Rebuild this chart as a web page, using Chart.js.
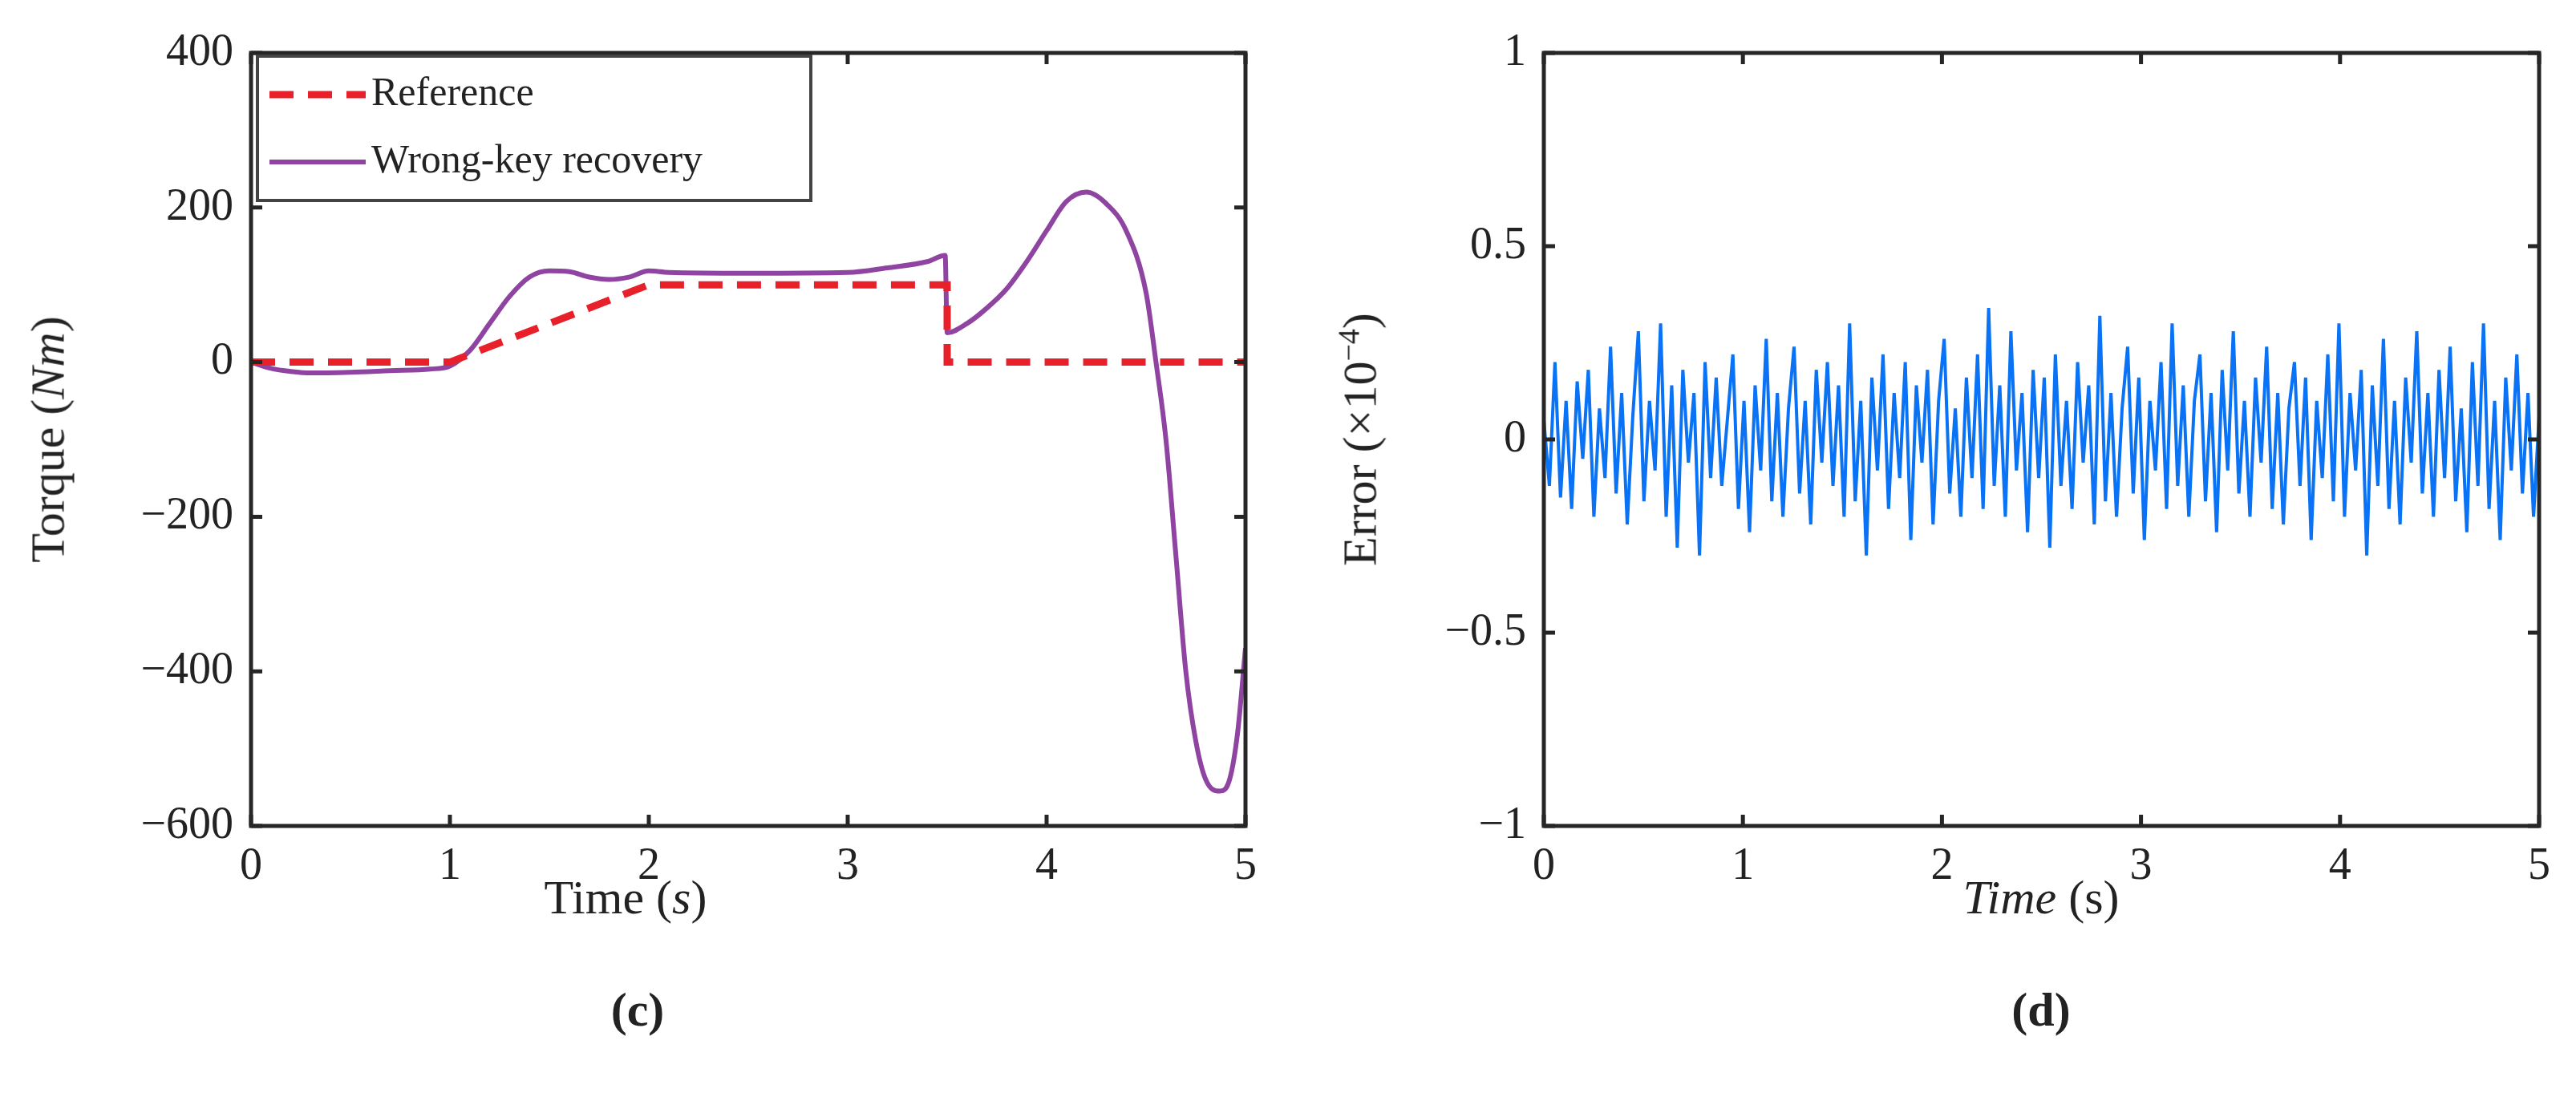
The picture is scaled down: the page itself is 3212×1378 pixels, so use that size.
<!DOCTYPE html>
<html><head><meta charset="utf-8">
<script src="https://cdn.jsdelivr.net/npm/chart.js@4"></script>
<style>
body{margin:0;background:#fff;width:3212px;height:1378px;position:relative;overflow:hidden;font-family:"Liberation Serif","DejaVu Serif",serif;color:#222}
.c{position:absolute;top:0;height:1378px}
.t{position:absolute;font-size:60px;white-space:nowrap}
</style></head><body>
<div class="c" style="left:0;width:1600px"><canvas id="c1" width="1600" height="1378" style="width:1600px;height:1378px"></canvas></div>
<div class="c" style="left:1600px;width:1612px"><canvas id="c2" width="1612" height="1378" style="width:1612px;height:1378px"></canvas></div>
<div class="t" style="left:780px;top:1085px;transform:translateX(-50%)">Time (<i>s</i>)</div>
<div class="t" style="left:2545px;top:1085px;transform:translateX(-50%)"><i>Time</i> (s)</div>
<div class="t" style="left:60px;top:548px;transform:translate(-50%,-50%) rotate(-90deg)">Torque (<i>Nm</i>)</div>
<div class="t" style="left:1695px;top:548px;transform:translate(-50%,-50%) rotate(-90deg)">Error (×10<sup style="font-size:38px">−4</sup>)</div>
<div class="t" style="left:795px;top:1225px;font-weight:bold;transform:translateX(-50%)">(c)</div>
<div class="t" style="left:2545px;top:1225px;font-weight:bold;transform:translateX(-50%)">(d)</div>
<script>
const refT=[0,1,2,3.5,3.5001,5];
const refV=[0,0,100,100,0,0];
const recT=[0,0.1,0.2,0.3,0.5,0.7,0.9,1.0,1.1,1.2,1.3,1.4,1.5,1.6,1.7,1.8,1.9,2.0,2.1,2.5,3.0,3.2,3.4,3.49,3.5,3.6,3.7,3.8,3.9,4.0,4.1,4.2,4.3,4.4,4.5,4.55,4.6,4.65,4.7,4.75,4.8,4.87,4.92,4.96,5.0];
const recV=[0,-8,-12,-14,-13,-11,-9,-5,15,50,85,110,118,117,110,107,110,118,116,115,116,122,130,138,38,50,70,95,130,170,208,220,205,170,90,0,-100,-250,-400,-490,-540,-555,-540,-480,-370];
const errV=[0.05,-0.12,0.2,-0.15,0.1,-0.18,0.15,-0.05,0.18,-0.2,0.08,-0.1,0.24,-0.14,0.12,-0.22,0.06,0.28,-0.16,0.1,-0.08,0.3,-0.2,0.14,-0.28,0.18,-0.06,0.12,-0.3,0.2,-0.1,0.16,-0.12,0.05,0.22,-0.18,0.1,-0.24,0.14,-0.08,0.26,-0.16,0.12,-0.2,0.08,0.24,-0.14,0.1,-0.22,0.18,
-0.06,0.2,-0.12,0.14,-0.2,0.3,-0.16,0.1,-0.3,0.16,-0.08,0.22,-0.18,0.12,-0.1,0.2,-0.26,0.14,-0.06,0.18,-0.22,0.1,0.26,-0.14,0.08,-0.2,0.16,-0.1,0.22,-0.18,0.34,-0.12,0.14,-0.2,0.28,-0.08,0.12,-0.24,0.18,-0.1,0.16,-0.28,0.22,-0.12,0.1,-0.18,0.2,-0.06,0.14,-0.22,
0.32,-0.16,0.12,-0.2,0.08,0.24,-0.14,0.16,-0.26,0.1,-0.08,0.2,-0.18,0.3,-0.12,0.14,-0.2,0.1,0.22,-0.16,0.12,-0.24,0.18,-0.08,0.28,-0.14,0.1,-0.2,0.16,-0.06,0.24,-0.18,0.12,-0.22,0.08,0.2,-0.12,0.16,-0.26,0.1,-0.1,0.22,-0.16,0.3,-0.2,0.12,-0.08,0.18,-0.3,0.14,
-0.12,0.26,-0.18,0.1,-0.22,0.16,-0.06,0.28,-0.14,0.12,-0.2,0.18,-0.1,0.24,-0.16,0.08,-0.24,0.2,-0.12,0.3,-0.18,0.1,-0.26,0.16,-0.08,0.22,-0.14,0.12,-0.2,0.06];
const xTicks=[0,1,2,3,4,5];
const yTicks1=[-600,-400,-200,0,200,400];
const yTicks2=[-1,-0.5,0,0.5,1];
const font={family:"Liberation Serif",size:56};
const boxPlugin={id:'box',afterDraw(ch){const c=ch.ctx,a=ch.chartArea,x=ch.scales.x,y=ch.scales.y;c.save();c.strokeStyle='#262626';c.lineWidth=5;c.strokeRect(a.left,a.top,a.right-a.left,a.bottom-a.top);
c.beginPath();x.ticks.forEach(t=>{const p=x.getPixelForValue(t.value);c.moveTo(p,a.bottom);c.lineTo(p,a.bottom-14);c.moveTo(p,a.top);c.lineTo(p,a.top+14);});
y.ticks.forEach(t=>{const p=y.getPixelForValue(t.value);c.moveTo(a.left,p);c.lineTo(a.left+14,p);c.moveTo(a.right,p);c.lineTo(a.right-14,p);});c.stroke();
if(ch.canvas.id==='c1'){const L=a.left+8,T=a.top+4,W=690,H=180;c.fillStyle='#fff';c.fillRect(L,T,W,H);c.strokeStyle='#444';c.lineWidth=4;c.strokeRect(L,T,W,H);
c.font='50px "Liberation Serif"';c.fillStyle='#222';c.textBaseline='middle';
c.strokeStyle='#e8202a';c.lineWidth=9;c.setLineDash([30,18]);c.beginPath();c.moveTo(L+15,T+48);c.lineTo(L+135,T+48);c.stroke();c.setLineDash([]);
c.strokeStyle='#8e44a0';c.lineWidth=6;c.beginPath();c.moveTo(L+15,T+132);c.lineTo(L+135,T+132);c.stroke();
c.fillText('Reference',L+142,T+48);c.fillText('Wrong-key recovery',L+142,T+132);}
c.restore();}};
function scales(yt,mn,mx,yw,cb){return{x:{type:'linear',min:0,max:5,afterBuildTicks:s=>{s.ticks=xTicks.map(v=>({value:v}))},afterFit:s=>{s.height=348},grid:{display:false},border:{display:false},ticks:{font,color:'#222',padding:10,maxRotation:0}},
y:{type:'linear',min:mn,max:mx,afterBuildTicks:s=>{s.ticks=yt.map(v=>({value:v}))},afterFit:s=>{s.width=yw},grid:{display:false},border:{display:false},ticks:{font,color:'#222',padding:14,callback:cb}}};}
const fmt=v=>String(v).replace('-','\u2212');
new Chart(document.getElementById('c1'),{type:'line',data:{datasets:[
{data:refT.map((t,i)=>({x:t,y:refV[i]})),borderColor:'#e8202a',borderWidth:9,borderDash:[30,18],pointRadius:0,tension:0},
{data:recT.map((t,i)=>({x:t,y:recV[i]})),borderColor:'#8e44a0',borderWidth:6,pointRadius:0,cubicInterpolationMode:'monotone'}]},
options:{responsive:false,devicePixelRatio:1,animation:false,layout:{padding:{top:66,right:47,left:0,bottom:0}},plugins:{legend:{display:false},tooltip:{enabled:false}},scales:scales(yTicks1,-600,400,313,fmt)},plugins:[boxPlugin]});
const n=errV.length;
new Chart(document.getElementById('c2'),{type:'line',data:{datasets:[
{data:errV.map((v,i)=>({x:i*5/(n-1),y:v})),borderColor:'#0a72f5',borderWidth:4,pointRadius:0,tension:0}]},
options:{responsive:false,devicePixelRatio:1,animation:false,layout:{padding:{top:66,right:46,left:0,bottom:0}},plugins:{legend:{display:false},tooltip:{enabled:false}},scales:scales(yTicks2,-1,1,325,fmt)},plugins:[boxPlugin]});
</script>
</body></html>
